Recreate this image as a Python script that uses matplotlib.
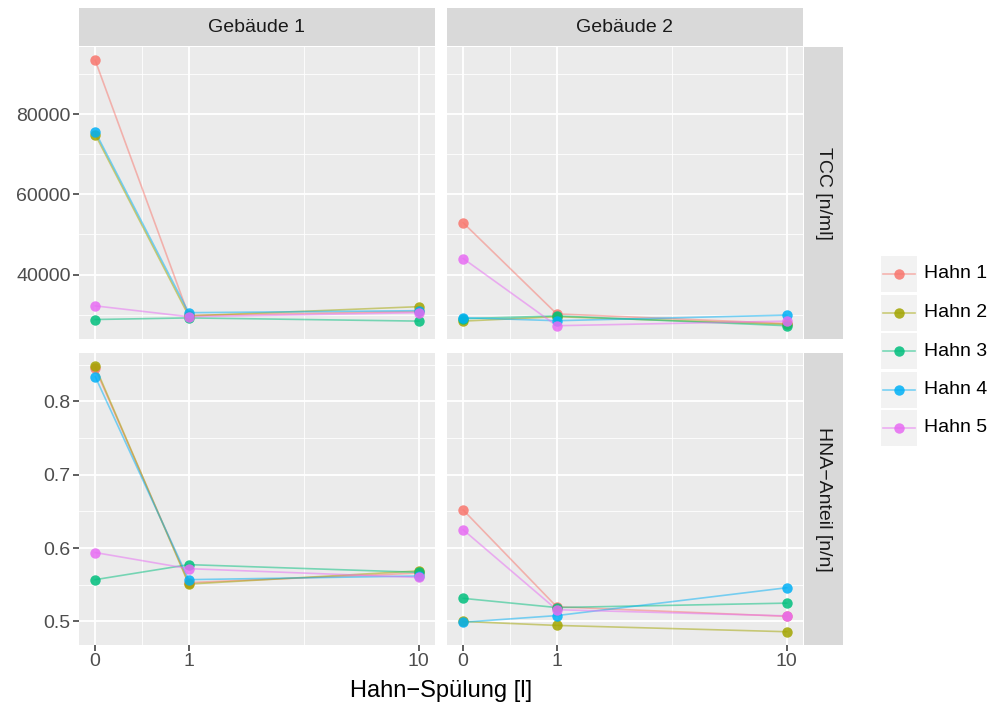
import numpy as np
import matplotlib.pyplot as plt
from matplotlib.patches import Rectangle
from matplotlib.lines import Line2D
from matplotlib.ticker import FixedLocator

plt.rcParams['font.family'] = ['Liberation Sans', 'DejaVu Sans']

# Spülvolumen in Litern
spuelung = [0, 1, 10]
hahn = ['Hahn 1', 'Hahn 2', 'Hahn 3', 'Hahn 4', 'Hahn 5']
farben = ['#F8766D', '#A3A500', '#00BF7D', '#00B0F6', '#E76BF3']

# Totalzellzahl [n/ml], eine Zeile pro Hahn
tcc_geb1 = [[93400, 29800, 30800],
            [74900, 29700, 32000],
            [28800, 29200, 28400],
            [75600, 30500, 31000],
            [32200, 29500, 30500]]
tcc_geb2 = [[52900, 30200, 27800],
            [28400, 29500, 27600],
            [29000, 29700, 27250],
            [29250, 28500, 29900],
            [44000, 27250, 28400]]

# HNA-Anteil [n/n]
hna_geb1 = [[0.845, 0.553, 0.566],
            [0.848, 0.551, 0.569],
            [0.557, 0.5775, 0.567],
            [0.834, 0.557, 0.562],
            [0.594, 0.572, 0.560]]
hna_geb2 = [[0.652, 0.520, 0.507],
            [0.500, 0.4946, 0.486],
            [0.5315, 0.519, 0.525],
            [0.499, 0.508, 0.546],
            [0.625, 0.516, 0.5076]]

gebaeude = ['Gebäude 1', 'Gebäude 2']
messgroessen = ['TCC [n/ml]', 'HNA−Anteil [n/n]']
daten = [[tcc_geb1, tcc_geb2], [hna_geb1, hna_geb2]]
y_major = [[40000, 60000, 80000], [0.5, 0.6, 0.7, 0.8]]
y_labels = [['40000', '60000', '80000'], ['0.5', '0.6', '0.7', '0.8']]

W, H = 991, 707
fig = plt.figure(figsize=(W / 100, H / 100), dpi=100)


def box(x0, y0, x1, y1):
    return [x0 / W, 1 - y1 / H, (x1 - x0) / W, (y1 - y0) / H]


fwd = lambda v: np.log10(np.asarray(v) + 1.0)
inv = lambda v: 10.0 ** np.asarray(v) - 1.0
t = fwd(spuelung)
pad = 0.05 * (t.max() - t.min())
xlim = inv([t.min() - pad, t.max() + pad])
x_minor = inv((t[:-1] + t[1:]) / 2)

spalten = [(79, 435), (447, 803)]
zeilen = [(47, 339), (353, 645)]

for r, (y0, y1) in enumerate(zeilen):
    alle = np.concatenate([np.ravel(d) for d in daten[r]])
    span = alle.max() - alle.min()
    ylim = (alle.min() - 0.05 * span, alle.max() + 0.05 * span)
    major = np.array(y_major[r])
    step = major[1] - major[0]
    minor = np.arange(major[0] - step / 2, ylim[1], step)
    for c, (x0, x1) in enumerate(spalten):
        ax = fig.add_axes(box(x0, y0, x1, y1))
        ax.set_facecolor('#EBEBEB')
        ax.set_xscale('function', functions=(fwd, inv))
        ax.set_xlim(xlim)
        ax.set_ylim(ylim)
        ax.set_xticks(spuelung)
        ax.set_xticklabels([str(v) for v in spuelung])
        ax.xaxis.set_minor_locator(FixedLocator(x_minor))
        ax.set_yticks(major)
        ax.set_yticklabels(y_labels[r])
        ax.yaxis.set_minor_locator(FixedLocator(minor))
        ax.grid(which='major', color='white', lw=1.3)
        ax.grid(which='minor', color='white', lw=0.6)
        ax.set_axisbelow(True)
        for s in ax.spines.values():
            s.set_visible(False)
        ax.tick_params(which='minor', length=0)
        ax.tick_params(which='major', length=4, width=1.1, color='#333333',
                       labelcolor='#4D4D4D', labelsize=14, pad=2)
        if r == 0:
            ax.tick_params(axis='x', length=0, labelbottom=False)
        if c == 1:
            ax.tick_params(axis='y', length=0, labelleft=False)

        serien = daten[r][c]
        for i in range(len(hahn)):
            ax.plot(spuelung, serien[i], color=farben[i], lw=1.2, alpha=0.5,
                    zorder=2)
        for i in range(len(hahn)):
            ax.plot(spuelung, serien[i], 'o', color=farben[i], ms=7.5,
                    alpha=0.85, mec='none', zorder=3)

        if r == 0:
            st = fig.add_axes(box(x0, 8, x1, 46))
            st.set_facecolor('#D9D9D9')
            st.set_xticks([])
            st.set_yticks([])
            for s in st.spines.values():
                s.set_visible(False)
            st.text(0.5, 0.5, gebaeude[c], ha='center', va='center',
                    fontsize=14, color='#1A1A1A', transform=st.transAxes)
    st = fig.add_axes(box(804, y0, 843, y1))
    st.set_facecolor('#D9D9D9')
    st.set_xticks([])
    st.set_yticks([])
    for s in st.spines.values():
        s.set_visible(False)
    st.text(0.5, 0.5, messgroessen[r], ha='center', va='center', rotation=270,
            fontsize=14, color='#1A1A1A', transform=st.transAxes)

fig.text(441 / W, 1 - 691 / H, 'Hahn−Spülung [l]', ha='center', va='center',
         fontsize=17, color='black')

# Legende
leg = fig.add_axes([0, 0, 1, 1], facecolor='none')
leg.set_xlim(0, W)
leg.set_ylim(H, 0)
leg.axis('off')
for i, name in enumerate(hahn):
    yc = 274 + 38.5 * i
    leg.add_patch(Rectangle((881, yc - 18), 36, 36, facecolor='#F2F2F2',
                            edgecolor='none'))
    leg.add_line(Line2D([883, 915], [yc, yc], color=farben[i], lw=1.2,
                        alpha=0.5))
    leg.plot(899, yc, 'o', color=farben[i], ms=7.5, alpha=0.85, mec='none')
    leg.text(924, yc, name, ha='left', va='center', fontsize=14,
             color='black')

fig.savefig('out.png', dpi=100)
